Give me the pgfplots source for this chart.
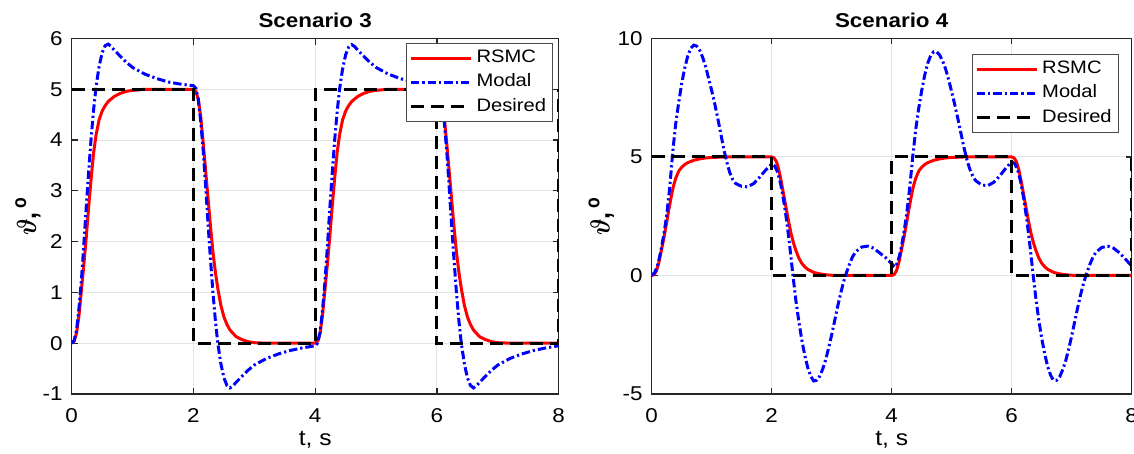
\documentclass[border=0pt]{standalone}
\usepackage{fontspec}
\setmainfont{Liberation Sans}
\usepackage{amsmath}
\usepackage{bm}
\usepackage{graphicx}
\usepackage{pgfplots}
\pgfplotsset{compat=1.18}

% the reference text looks stretched sideways, so stretch ours a bit too
\newcommand{\hs}[1]{\scalebox{1.12}[1]{#1}}
\newcommand{\ylab}{\scalebox{1}[1.15]{\fontsize{12.5}{13}\selectfont$\bm{\vartheta}$\textbf{,\,}$^{\text{\textbf{o}}}$}}

\pgfplotsset{
  scen/.style={
    scale only axis,
    height=177.75pt,
    xmin=0, xmax=8,
    xtick={0,2,4,6,8},
    grid=major,
    grid style={black!10, line width=0.5pt},
    tick align=inside,
    major tick length=3pt,
    axis line style={black!85, line width=0.6pt},
    every tick/.style={black!85, line width=0.6pt},
    /pgf/number format/assume math mode=true,
    tick label style={font=\fontsize{10}{11}\selectfont},
    xticklabel={\hs{\pgfmathprintnumber{\tick}}},
    yticklabel={\hs{\pgfmathprintnumber{\tick}}},
    xticklabel style={anchor=base, yshift=-14.5pt},
    yticklabel style={anchor=east, xshift=-1pt},
    xlabel={\hs{t, s}},
    xlabel style={at={(axis description cs:0.5,0)}, anchor=base, yshift=-26pt,
      font=\fontsize{11}{12}\selectfont},
    title style={at={(axis description cs:0.5,1)}, anchor=base, yshift=-0.5pt,
      font=\bfseries\fontsize{10}{11}\selectfont},
    legend cell align=left,
    legend style={draw=black!70, line width=0.5pt, fill=white,
      font=\fontsize{9}{10}\selectfont, inner sep=1.4pt,
      nodes={inner ysep=1.5pt, text height=6.8pt, text depth=2.3pt}},
    legend image code/.code={\draw[#1] (0pt,0pt) -- (30pt,0pt);},
  },
  rsmc/.style={red, line width=1.5pt},
  modal/.style={blue, line width=1.5pt, dash pattern=on 4.2pt off 1.5pt on 1.1pt off 1.5pt},
  desired/.style={black, line width=1.5pt, dash pattern=on 6.5pt off 3.5pt},
}

\begin{document}
\begin{tikzpicture}
\path[use as bounding box] (-35.85pt,-30pt) rectangle (531.15pt,197pt);

% ---------------- Scenario 3 ----------------
\begin{axis}[scen,
  at={(0pt,0pt)}, anchor=south west,
  width=243.5pt,
  ymin=-1, ymax=6,
  ytick={-1,0,1,2,3,4,5,6},
  title={\hs{Scenario 3}},
  ylabel={\ylab},
  ylabel style={at={(axis description cs:-0.09,0.5)}, anchor=center},
  legend style={at={(1,1)}, anchor=north east, xshift=-2.7pt, yshift=-2.1pt},
]
\addplot[rsmc] coordinates {
(0,0)(0.04,0.04)(0.08,0.2)(0.12,0.55)(0.16,1.05)(0.2,1.55)(0.24,2.1)(0.28,2.7)
(0.32,3.25)(0.36,3.75)(0.4,4.1)(0.45,4.4)(0.5,4.57)(0.55,4.68)(0.6,4.76)(0.7,4.86)
(0.8,4.92)(0.9,4.96)(1,4.98)(1.2,5)(2,5)
(2.04,4.96)(2.08,4.8)(2.12,4.45)(2.16,3.95)(2.2,3.4)(2.24,2.85)(2.28,2.3)(2.32,1.8)
(2.36,1.4)(2.4,1.08)(2.45,0.75)(2.5,0.52)(2.55,0.37)(2.6,0.26)(2.7,0.13)(2.8,0.07)
(2.9,0.03)(3,0.01)(3.2,0)(4,0)
(4.04,0.04)(4.08,0.2)(4.12,0.55)(4.16,1.05)(4.2,1.55)(4.24,2.1)(4.28,2.7)
(4.32,3.25)(4.36,3.75)(4.4,4.1)(4.45,4.4)(4.5,4.57)(4.55,4.68)(4.6,4.76)(4.7,4.86)
(4.8,4.92)(4.9,4.96)(5,4.98)(5.2,5)(6,5)
(6.04,4.96)(6.08,4.8)(6.12,4.45)(6.16,3.95)(6.2,3.4)(6.24,2.85)(6.28,2.3)(6.32,1.8)
(6.36,1.4)(6.4,1.08)(6.45,0.75)(6.5,0.52)(6.55,0.37)(6.6,0.26)(6.7,0.13)(6.8,0.07)
(6.9,0.03)(7,0.01)(7.2,0)(8,0)
};
\addlegendentry{\hs{RSMC}}
\addplot[modal] coordinates {
(0,0)(0.04,0.05)(0.08,0.26)(0.12,0.7)(0.16,1.25)(0.2,1.95)(0.24,2.7)(0.28,3.4)
(0.32,4.05)(0.36,4.6)(0.4,5.05)(0.45,5.45)(0.5,5.72)(0.55,5.86)(0.6,5.89)(0.65,5.84)
(0.7,5.77)(0.8,5.65)(0.9,5.53)(1,5.43)(1.2,5.3)(1.4,5.21)(1.6,5.14)(1.8,5.1)(2,5.07)
(2.04,5.02)(2.08,4.8)(2.12,4.36)(2.16,3.8)(2.2,3.1)(2.24,2.35)(2.28,1.65)(2.32,1)
(2.36,0.45)(2.4,0)(2.45,-0.4)(2.5,-0.68)(2.55,-0.83)(2.6,-0.88)(2.65,-0.84)(2.7,-0.77)
(2.8,-0.65)(2.9,-0.53)(3,-0.43)(3.2,-0.3)(3.4,-0.21)(3.6,-0.14)(3.8,-0.09)(4,-0.05)
(4.04,0)(4.08,0.21)(4.12,0.65)(4.16,1.2)(4.2,1.9)(4.24,2.65)(4.28,3.35)
(4.32,4)(4.36,4.55)(4.4,5)(4.45,5.4)(4.5,5.68)(4.55,5.83)(4.6,5.88)(4.65,5.84)
(4.7,5.77)(4.8,5.65)(4.9,5.53)(5,5.43)(5.2,5.3)(5.4,5.21)(5.6,5.14)(5.8,5.1)(6,5.07)
(6.04,5.02)(6.08,4.8)(6.12,4.36)(6.16,3.8)(6.2,3.1)(6.24,2.35)(6.28,1.65)(6.32,1)
(6.36,0.45)(6.4,0)(6.45,-0.4)(6.5,-0.68)(6.55,-0.83)(6.6,-0.88)(6.65,-0.84)(6.7,-0.77)
(6.8,-0.65)(6.9,-0.53)(7,-0.43)(7.2,-0.3)(7.4,-0.21)(7.6,-0.14)(7.8,-0.09)(8,-0.05)
};
\addlegendentry{\hs{Modal}}
\addplot[desired] coordinates {
(0,5)(2,5)(2,0)(4,0)(4,5)(6,5)(6,0)(8,0)(8,5)
};
\addlegendentry{\hs{Desired}}
\end{axis}

% ---------------- Scenario 4 ----------------
\begin{axis}[scen,
  at={(290pt,0pt)}, anchor=south west,
  width=240pt,
  ymin=-5, ymax=10,
  ytick={-5,0,5,10},
  title={\hs{Scenario 4}},
  ylabel={\ylab},
  ylabel style={at={(axis description cs:-0.105,0.5)}, anchor=center},
  legend style={at={(1,1)}, anchor=north east, xshift=-6.35pt, yshift=-7.7pt},
]
\addplot[rsmc] coordinates {
(0,0)(0.04,0.04)(0.08,0.2)(0.12,0.55)(0.16,1.05)(0.2,1.55)(0.24,2.1)(0.28,2.7)
(0.32,3.25)(0.36,3.75)(0.4,4.1)(0.45,4.4)(0.5,4.57)(0.55,4.68)(0.6,4.76)(0.7,4.86)
(0.8,4.92)(0.9,4.96)(1,4.98)(1.2,5)(2,5)
(2.04,4.96)(2.08,4.8)(2.12,4.45)(2.16,3.95)(2.2,3.4)(2.24,2.85)(2.28,2.3)(2.32,1.8)
(2.36,1.4)(2.4,1.08)(2.45,0.75)(2.5,0.52)(2.55,0.37)(2.6,0.26)(2.7,0.13)(2.8,0.07)
(2.9,0.03)(3,0.01)(3.2,0)(4,0)
(4.04,0.04)(4.08,0.2)(4.12,0.55)(4.16,1.05)(4.2,1.55)(4.24,2.1)(4.28,2.7)
(4.32,3.25)(4.36,3.75)(4.4,4.1)(4.45,4.4)(4.5,4.57)(4.55,4.68)(4.6,4.76)(4.7,4.86)
(4.8,4.92)(4.9,4.96)(5,4.98)(5.2,5)(6,5)
(6.04,4.96)(6.08,4.8)(6.12,4.45)(6.16,3.95)(6.2,3.4)(6.24,2.85)(6.28,2.3)(6.32,1.8)
(6.36,1.4)(6.4,1.08)(6.45,0.75)(6.5,0.52)(6.55,0.37)(6.6,0.26)(6.7,0.13)(6.8,0.07)
(6.9,0.03)(7,0.01)(7.2,0)(8,0)
};
\addlegendentry{\hs{RSMC}}
\addplot[modal] coordinates {
(0,0)(0.05,0.12)(0.1,0.45)(0.15,1)(0.2,1.7)(0.25,2.55)(0.3,3.7)(0.35,5.2)
(0.4,6.4)(0.45,7.3)(0.5,8.1)(0.55,8.75)(0.6,9.25)(0.65,9.58)(0.7,9.72)(0.75,9.68)
(0.8,9.5)(0.85,9.2)(0.9,8.8)(0.95,8.3)(1,7.8)(1.05,7.25)(1.1,6.65)(1.15,6)
(1.2,5.35)(1.25,4.8)(1.3,4.35)(1.35,4.05)(1.4,3.88)(1.5,3.76)(1.6,3.74)(1.7,3.88)
(1.8,4.15)(1.9,4.45)(2,4.7)
(2.05,4.62)(2.1,4.35)(2.15,3.85)(2.2,3.15)(2.25,2.3)(2.3,1.25)(2.35,0.1)(2.4,-1)
(2.45,-1.9)(2.5,-2.7)(2.55,-3.35)(2.6,-3.88)(2.65,-4.25)(2.7,-4.45)(2.75,-4.42)
(2.8,-4.25)(2.85,-3.95)(2.9,-3.55)(2.95,-3.05)(3,-2.5)(3.05,-1.9)(3.1,-1.3)
(3.15,-0.75)(3.2,-0.25)(3.25,0.15)(3.3,0.5)(3.35,0.8)(3.4,1)(3.5,1.2)(3.6,1.24)
(3.7,1.15)(3.8,0.95)(3.9,0.75)(4,0.5)
(4.05,0.35)(4.1,0.55)(4.15,1.05)(4.2,1.75)(4.25,2.6)(4.3,3.7)(4.35,5)(4.4,6.15)
(4.45,7.05)(4.5,7.8)(4.55,8.45)(4.6,8.95)(4.65,9.28)(4.7,9.44)(4.75,9.43)(4.8,9.3)
(4.85,9.05)(4.9,8.7)(4.95,8.25)(5,7.75)(5.05,7.22)(5.1,6.65)(5.15,6.05)(5.2,5.45)
(5.25,4.92)(5.3,4.5)(5.35,4.2)(5.4,4)(5.5,3.82)(5.6,3.79)(5.7,3.93)(5.8,4.2)
(5.9,4.52)(6,4.8)
(6.05,4.72)(6.1,4.45)(6.15,3.95)(6.2,3.25)(6.25,2.4)(6.3,1.35)(6.35,0.2)(6.4,-0.9)
(6.45,-1.85)(6.5,-2.65)(6.55,-3.3)(6.6,-3.85)(6.65,-4.22)(6.7,-4.43)(6.75,-4.42)
(6.8,-4.27)(6.85,-3.98)(6.9,-3.6)(6.95,-3.1)(7,-2.55)(7.05,-1.95)(7.1,-1.35)
(7.15,-0.8)(7.2,-0.3)(7.25,0.1)(7.3,0.45)(7.35,0.75)(7.4,0.97)(7.5,1.18)(7.6,1.24)
(7.7,1.15)(7.8,0.95)(7.9,0.68)(8,0.4)
};
\addlegendentry{\hs{Modal}}
\addplot[desired] coordinates {
(0,5)(2,5)(2,0)(4,0)(4,5)(6,5)(6,0)(8,0)(8,5)
};
\addlegendentry{\hs{Desired}}
\end{axis}
\end{tikzpicture}
\end{document}
